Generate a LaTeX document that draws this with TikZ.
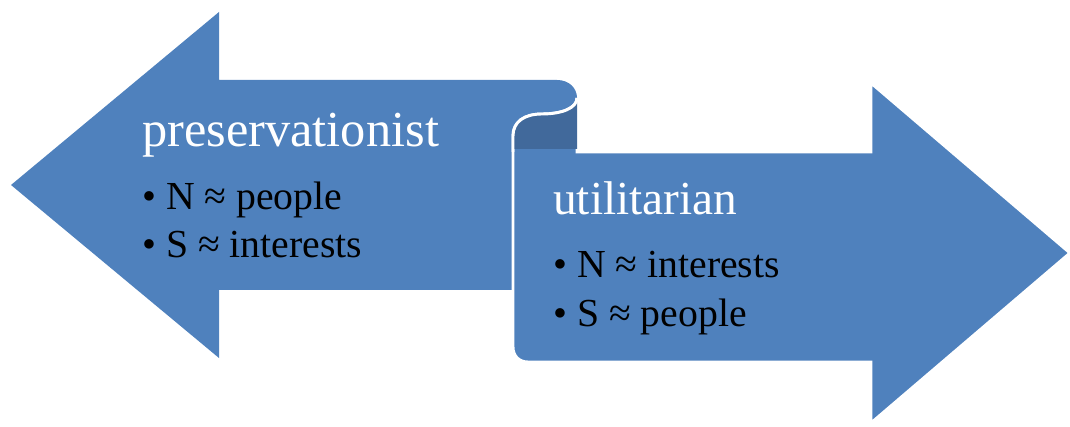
\documentclass[tikz,border=0pt]{standalone}
\usepackage{fontspec}
\setmainfont{Liberation Serif}
\definecolor{arrowblue}{HTML}{4F81BD}
\definecolor{curldark}{HTML}{41699B}
\tikzset{
  shapefill/.style={fill=arrowblue},
  edgeline/.style={draw=white, line width=2.2pt},
  titletext/.style={anchor=base west, inner sep=0pt, text=white},
  bullettext/.style={anchor=base west, inner sep=0pt, text=black, font=\fontsize{29.8}{34}\selectfont}
}
\begin{document}
\begin{tikzpicture}[x=0.75pt,y=-0.75pt]
\useasboundingbox (0,0) rectangle (1070,427);
% left arrow
\fill[shapefill] (11,185) -- (219,12) -- (219,80) -- (557,80)
  .. controls (569,80) and (577,88) .. (577,98)
  .. controls (577,108) and (562,114) .. (542,114)
  .. controls (524,114) and (513,122) .. (513,136)
  -- (513,290) -- (219,290) -- (219,358) -- cycle;
% right arrow
\filldraw[shapefill, edgeline] (513,136)
  .. controls (513,122) and (524,114) .. (542,114)
  .. controls (562,114) and (577,108) .. (577,98)
  -- (577,152) -- (871,152) -- (871,83) -- (1070,253) -- (871,423)
  -- (871,362) -- (528,362)
  .. controls (519,362) and (513,356) .. (513,347) -- cycle;
% underside of the curl
\fill[curldark] (513,136)
  .. controls (513,122) and (524,114) .. (542,114)
  .. controls (562,114) and (577,108) .. (577,98)
  -- (577,149) -- (513,149) -- cycle;
\draw[edgeline] (577,98)
  .. controls (577,108) and (562,114) .. (542,114)
  .. controls (524,114) and (513,122) .. (513,136) -- (513,152);
% texts
\node[titletext, font=\fontsize{37.8}{44}\selectfont] (pres) at (142,147) {preservationist};
\node[bullettext] (pn) at (142,210) {• N ≈ people};
\node[bullettext] (ps) at (142,258) {• S ≈ interests};
\node[titletext, font=\fontsize{35.5}{42}\selectfont] (util) at (553,215) {utilitarian};
\node[bullettext] (un) at (553,278) {• N ≈ interests};
\node[bullettext] (us) at (553,327) {• S ≈ people};
\end{tikzpicture}
\end{document}
